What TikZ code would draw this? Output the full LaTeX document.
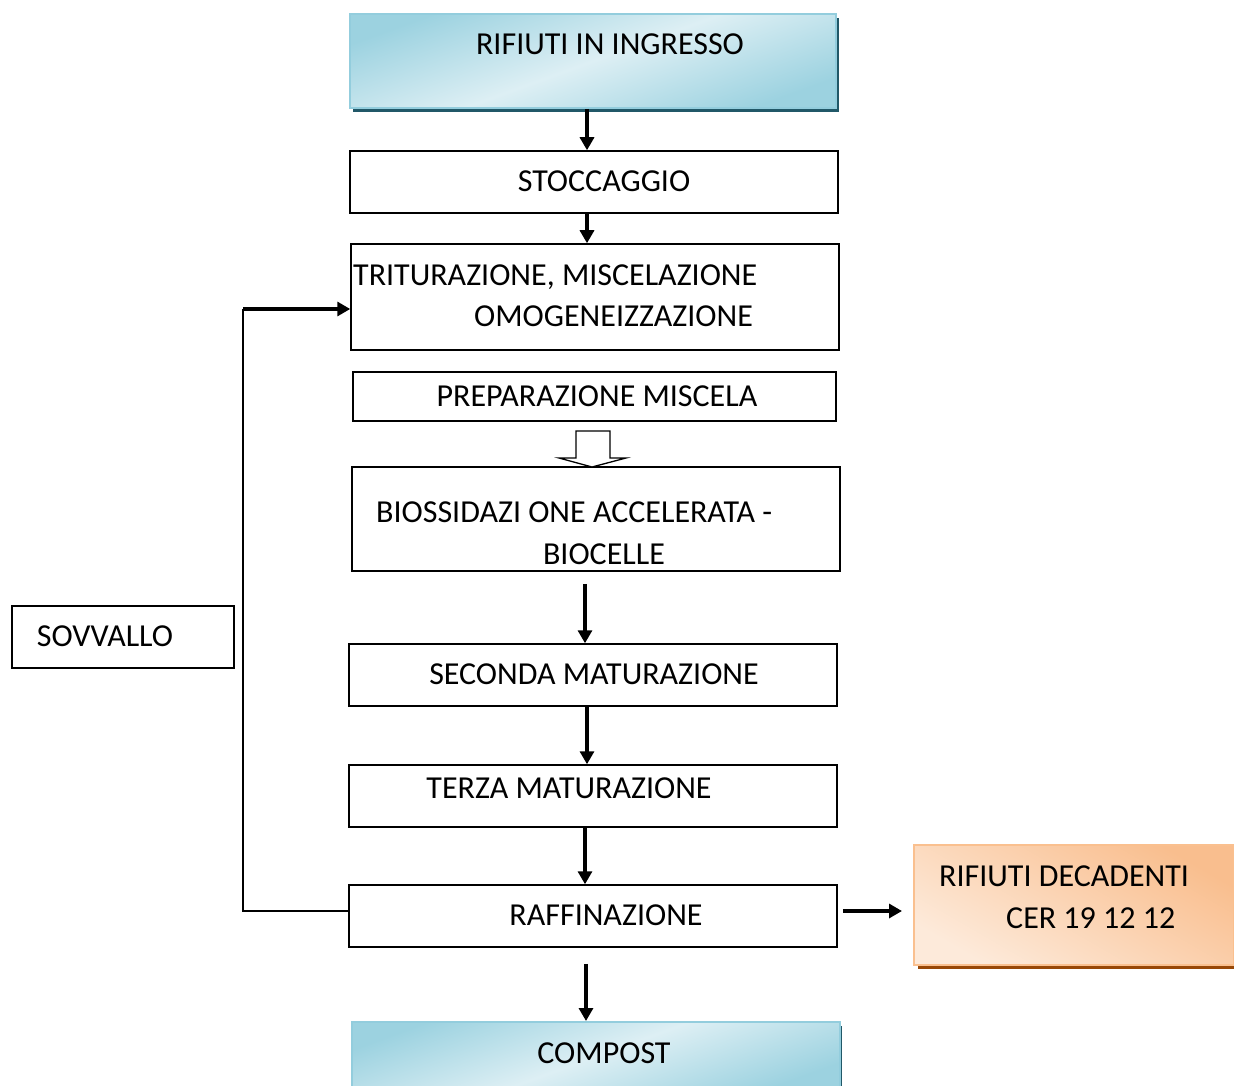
\documentclass[tikz,border=0pt]{standalone}
\usepackage{fontspec}
\setmainfont{Carlito}
\usetikzlibrary{arrows.meta,calc}
\definecolor{blueedge}{HTML}{93CDDD}
\definecolor{bluelight}{HTML}{DDEFF4}
\definecolor{bluedark}{HTML}{9CD2E0}
\definecolor{blueshadow}{HTML}{215868}
\definecolor{orangeedge}{HTML}{FAC08F}
\definecolor{orangelight}{HTML}{FDEADA}
\definecolor{orangedark}{HTML}{F9BE8E}
\definecolor{orangeshadow}{HTML}{984807}
\tikzset{
  box/.style={draw=black, line width=1.5pt, fill=white, inner sep=0pt},
  bluebox/.style={draw=blueedge, line width=2pt, inner sep=0pt,
     top color=bluedark, bottom color=bluedark, middle color=bluelight, shading angle=20},
  orangebox/.style={draw=orangeedge, line width=2pt, inner sep=0pt,
     top color=orangedark, bottom color=orangelight, shading angle=-30},
  txt/.style={font=\fontsize{32}{38}\selectfont, inner sep=0pt, anchor=base west},
  ctxt/.style={font=\fontsize{32}{38}\selectfont, inner sep=0pt, anchor=base},
  arr/.style={line width=3.2pt, -{Triangle[length=13pt,width=14pt]}},
  fb/.style={line width=2pt}
}
\begin{document}
\begin{tikzpicture}[x=1pt,y=-1pt]
\useasboundingbox (0,0) rectangle (1234,1086);
% shadows
\fill[blueshadow] (353,18) rectangle (839,112);
\fill[blueshadow] (356,1026) rectangle (842,1090);
\fill[orangeshadow] (918,849) rectangle (1236,969);
% boxes
\node[bluebox, minimum width=486pt, minimum height=94pt] (top) at (592.5,61) {};
\node[ctxt] (toptxt) at (610,55) {RIFIUTI IN INGRESSO};
\node[box, minimum width=488pt, minimum height=62pt] (stocc) at (594,182) {};
\node[ctxt] (stocctxt) at (604,192) {STOCCAGGIO};
\node[box, minimum width=488pt, minimum height=106pt] (trit) at (595,297) {};
\node[txt] (trit1) at (353,285) {TRITURAZIONE, MISCELAZIONE};
\node[txt] (trit2) at (474,326) {OMOGENEIZZAZIONE};
\node[box, minimum width=483pt, minimum height=49pt] (prep) at (594.5,396.5) {};
\node[ctxt] (preptxt) at (597,406) {PREPARAZIONE MISCELA};
\node[box, minimum width=488pt, minimum height=104pt] (bio) at (596,519) {};
\node[txt] (bio1) at (376,522) {BIOSSIDAZI ONE ACCELERATA -};
\node[ctxt] (bio2) at (604,564) {BIOCELLE};
\node[box, minimum width=488pt, minimum height=62pt] (sec) at (593,675) {};
\node[ctxt] (sectxt) at (594,684) {SECONDA MATURAZIONE};
\node[box, minimum width=488pt, minimum height=62pt] (terza) at (593,796) {};
\node[ctxt] (terzatxt) at (569,798) {TERZA MATURAZIONE};
\node[box, minimum width=488pt, minimum height=62pt] (raff) at (593,916) {};
\node[ctxt] (rafftxt) at (606,925) {RAFFINAZIONE};
\node[bluebox, minimum width=488pt, minimum height=68pt] (comp) at (596,1056) {};
\node[ctxt] (comptxt) at (604,1063) {COMPOST};
\node[box, minimum width=222pt, minimum height=62pt] (sovv) at (123,637) {};
\node[ctxt] (sovvtxt) at (105,646) {SOVVALLO};
\node[orangebox, minimum width=320pt, minimum height=120pt] (dec) at (1074,905) {};
\node[txt] (dec1) at (939,886) {RIFIUTI DECADENTI};
\node[txt] (dec2) at (1006,928) {CER 19 12 12};
% connectors
\draw[arr] ($(top.south)+(-5.5,0)$) -- ($(stocc.north)+(-7,0)$);
\draw[arr] ($(stocc.south)+(-7,0)$) -- ($(trit.north)+(-8,0)$);
\draw[arr] ($(bio.south)+(-11,12)$) -- ($(sec.north)+(-8,0)$);
\draw[arr] ($(sec.south)+(-6,0)$) -- ($(terza.north)+(-6,0)$);
\draw[arr] ($(terza.south)+(-8,0)$) -- ($(raff.north)+(-8,0)$);
\draw[arr] ($(raff.south)+(-7,16)$) -- ($(comp.north)+(-10,0)$);
\draw[arr] ($(raff.east)+(5,-5)$) -- ($(dec.west)+(-11,6)$);
\coordinate (fb1) at (243,911);
\coordinate (fb2) at (243,309);
\draw[fb] ($(raff.west)+(0,-5)$) -- (fb1) -- (fb2);
\draw[arr] (fb2) -- (trit.west |- fb2);
% hollow arrow
\draw[line width=1.3pt, fill=white] (576,431) -- (610,431) -- (610,458) -- (626,458) -- (592,467) -- (559,458) -- (576,458) -- cycle;
\end{tikzpicture}
\end{document}
